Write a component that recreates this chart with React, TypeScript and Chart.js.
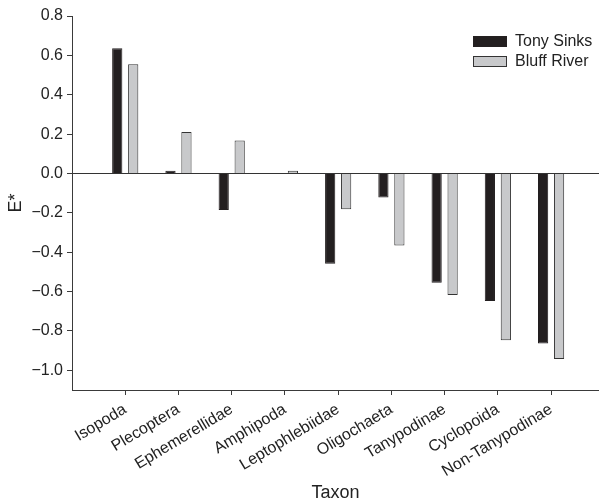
import React, { useEffect, useRef } from "react";
import { Chart, registerables } from "chart.js";

Chart.register(...registerables);

const categories = [
  "Isopoda",
  "Plecoptera",
  "Ephemerellidae",
  "Amphipoda",
  "Leptophlebiidae",
  "Oligochaeta",
  "Tanypodinae",
  "Cyclopoida",
  "Non-Tanypodinae",
];
const tonySinks = [0.636, 0.014, -0.186, 0, -0.459, -0.122, -0.555, -0.648, -0.864];
const bluffRiver = [0.555, 0.211, 0.167, 0.014, -0.182, -0.366, -0.618, -0.847, -0.942];
const yTickValues = [-1.0, -0.8, -0.6, -0.4, -0.2, 0.0, 0.2, 0.4, 0.6, 0.8];
const seriesNames = ["Tony Sinks", "Bluff River"];

const DARK = "#231f20";
const LIGHT = "#c8c9cb";
const AXIS = "#3a3a3a";
const FONT = "'Liberation Sans', Arial, sans-serif";

const legendPlugin = {
  id: "customLegend",
  afterDraw(chart: any) {
    const ctx = chart.ctx;
    ctx.save();
    const x = 473;
    const rows = [
      { name: seriesNames[0], fill: DARK, stroke: DARK, y: 36 },
      { name: seriesNames[1], fill: LIGHT, stroke: "#333", y: 56 },
    ];
    ctx.font = `16px ${FONT}`;
    ctx.textBaseline = "middle";
    ctx.textAlign = "left";
    rows.forEach((r) => {
      ctx.fillStyle = r.fill;
      ctx.fillRect(x, r.y, 34, 11);
      ctx.strokeStyle = r.stroke;
      ctx.lineWidth = 1;
      ctx.strokeRect(x + 0.5, r.y + 0.5, 33, 10);
      ctx.fillStyle = "#222";
      ctx.fillText(r.name, x + 42, r.y + 6);
    });
    ctx.restore();
  },
};

export default function App() {
  const ref = useRef<HTMLCanvasElement | null>(null);
  useEffect(() => {
    if (!ref.current) return;
    const chart = new Chart(ref.current, {
      type: "bar",
      data: {
        datasets: [
          {
            label: seriesNames[0],
            data: tonySinks.map((v, i) => ({ x: i + 1, y: v })),
            backgroundColor: DARK,
            borderColor: DARK,
            borderWidth: 1,
            categoryPercentage: 0.6,
            barPercentage: 0.64,
          },
          {
            label: seriesNames[1],
            data: bluffRiver.map((v, i) => ({ x: i + 1, y: v })),
            backgroundColor: LIGHT,
            borderColor: "#333",
            borderWidth: 1,
            categoryPercentage: 0.6,
            barPercentage: 0.64,
          },
        ],
      },
      plugins: [legendPlugin],
      options: {
        responsive: false,
        animation: false,
        devicePixelRatio: 1,
        layout: { padding: { top: 16, right: 0, left: 0, bottom: 0 } },
        plugins: {
          legend: { display: false },
          tooltip: { enabled: false },
        },
        scales: {
          x: {
            type: "linear",
            offset: false,
            min: 0,
            max: 9.9,
            afterBuildTicks: (scale: any) => {
              scale.ticks = categories.map((_, i) => ({ value: i + 1 }));
            },
            afterFit: (scale: any) => {
              scale.height = 114;
            },
            ticks: {
              autoSkip: false,
              maxRotation: 31,
              minRotation: 31,
              padding: 5,
              color: "#222",
              font: { family: FONT, size: 16 },
              callback: (v: any) => categories[Math.round(v) - 1] ?? "",
            },
            grid: {
              offset: false,
              drawOnChartArea: false,
              drawTicks: true,
              tickLength: 5,
              tickColor: AXIS,
            },
            border: { color: AXIS, width: 1 },
            title: {
              display: true,
              text: "Taxon",
              color: "#222",
              font: { family: FONT, size: 18 },
              padding: { top: 0, bottom: 0 },
            },
          },
          y: {
            min: -1.1,
            max: 0.8,
            afterBuildTicks: (scale: any) => {
              scale.ticks = yTickValues.map((v) => ({ value: v }));
            },
            afterFit: (scale: any) => {
              scale.width = 72;
            },
            ticks: {
              padding: 4,
              color: "#222",
              font: { family: FONT, size: 16 },
              callback: (v: any) => {
                const n = Number(v);
                const s = Math.abs(n).toFixed(1);
                return n < -1e-9 ? "\u2212" + s : s;
              },
            },
            grid: {
              drawTicks: true,
              tickLength: 5,
              tickColor: AXIS,
              color: (c: any) => (c.tick && Math.abs(c.tick.value) < 1e-9 ? "#333" : "rgba(0,0,0,0)"),
              lineWidth: 1,
            },
            border: { color: AXIS, width: 1 },
            title: {
              display: true,
              text: "E*",
              color: "#222",
              font: { family: FONT, size: 18 },
              padding: { top: 5, bottom: 0 },
            },
          },
        },
      },
    });
    return () => chart.destroy();
  }, []);
  return (
    <div style={{ position: "absolute", left: 0, top: 0, width: 599, height: 504, background: "#fff" }}>
      <canvas ref={ref} width={599} height={504} style={{ display: "block", width: 599, height: 504 }} />
    </div>
  );
}
